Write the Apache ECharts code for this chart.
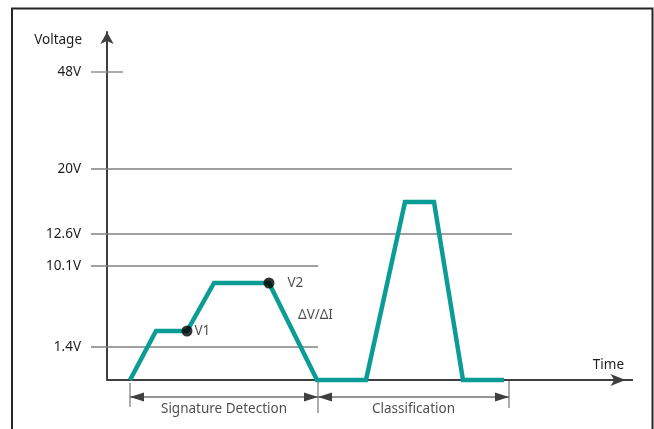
<!DOCTYPE html>
<html><head><meta charset="utf-8">
<script src="https://cdn.jsdelivr.net/npm/echarts@6/dist/echarts.min.js"></script>
<style>html,body{margin:0;padding:0;background:#fff}#c{width:654px;height:429px}</style>
</head><body><div id="c"></div>
<script>
// Schematic diagram: x = time (schematic units), y = voltage level position (schematic, non-linear scale)
const levelLabels = ['1.4V', '10.1V', '12.6V', '20V', '48V'];
const levelPos    = [33, 114, 146, 211, 308];
const levelStart  = [-16, -16, -16, -16, -16];
const levelEnd    = [211, 211, 405, 405, 16];

const traceTime  = [23, 49, 80, 107, 162, 210, 259, 298, 327, 356, 397];
const traceLevel = [0, 49, 49, 97, 97, 0, 0, 178, 178, 0, 0];

const markerNames = ['V1', 'V2'];
const markerTime  = [80, 162];
const markerLevel = [49, 97];
const markerGap   = [2, 13];

const slopeLabel = 'ΔV/ΔI';
const slopeTime = 191, slopeLevel = 65;

const phaseNames = ['Signature Detection', 'Classification'];
const phaseStart = [23, 211];
const phaseEnd   = [211, 402];
const phaseLevel = -17;
const phaseTickTime = [23, 211, 402];
const phaseTickTop = [-3, 0, 0];
const phaseTickBottom = [-27, -33, -28];

const timeMin = -17, timeMax = 526, timeAxisEnd = 526;
const levelMax = 348;

const FONT = 'Noto Sans';
const FS = 13.5;
const TXT = '#1e1e1e';
const TEAL = '#0a9c95';
const AXIS = '#3f3f3f';
const GRAY = '#808080';

const series = [];
levelPos.forEach((p, i) => {
  series.push({
    type: 'line', clip: false, silent: true, symbol: 'none', z: 1,
    data: [[levelStart[i], p], [levelEnd[i], p]],
    lineStyle: { color: GRAY, width: 1.3 }
  });
});
phaseTickTime.forEach((t, i) => {
  series.push({
    type: 'line', clip: false, silent: true, symbol: 'none', z: 1,
    data: [[t, phaseTickTop[i]], [t, phaseTickBottom[i]]],
    lineStyle: { color: GRAY, width: 1.3 }
  });
});
phaseNames.forEach((n, i) => {
  series.push({
    type: 'line', clip: false, silent: true, z: 2,
    symbolSize: [9, 14],
    data: [
      { value: [phaseStart[i], phaseLevel], symbol: 'triangle', symbolRotate: 90, symbolOffset: [7, 0] },
      { value: [phaseEnd[i], phaseLevel], symbol: 'triangle', symbolRotate: -90, symbolOffset: [-7, 0] }
    ],
    itemStyle: { color: AXIS },
    lineStyle: { color: '#707070', width: 1.5 }
  });
});
series.push({
  type: 'scatter', clip: false, silent: true, symbolSize: 0,
  data: phaseNames.map((n, i) => ({ value: [(phaseStart[i] + phaseEnd[i]) / 2, phaseLevel], name: n })),
  label: { show: true, position: 'bottom', distance: 5, formatter: p => p.name,
           color: TXT, fontSize: FS, fontFamily: FONT }
});
// time axis line (drawn from the time origin to the arrow tip)
series.push({
  type: 'line', clip: false, silent: true, z: 2, symbolSize: [9, 15],
  data: [
    { value: [0, 0], symbol: 'none' },
    { value: [timeAxisEnd, 0], symbol: 'arrow', symbolRotate: -90, symbolOffset: [-7.5, 0] }
  ],
  itemStyle: { color: AXIS },
  lineStyle: { color: AXIS, width: 2 }
});
series.push({
  type: 'line', clip: false, silent: true, symbol: 'none', z: 3,
  data: traceTime.map((t, i) => [t, traceLevel[i]]),
  lineStyle: { color: TEAL, width: 4.5, cap: 'butt', join: 'miter' }
});
series.push({
  type: 'scatter', clip: false, silent: true, symbolSize: 11, z: 4,
  itemStyle: { color: '#000' },
  data: markerNames.map((n, i) => ({ value: [markerTime[i], markerLevel[i]], name: n,
    label: { distance: markerGap[i] } })),
  label: { show: true, position: 'right', formatter: p => p.name,
           color: TXT, fontSize: FS, fontFamily: FONT }
});
series.push({
  type: 'scatter', clip: false, silent: true, symbolSize: 0,
  data: [{ value: [slopeTime, slopeLevel], name: slopeLabel }],
  label: { show: true, position: 'right', distance: 0, formatter: p => p.name,
           color: TXT, fontSize: FS, fontFamily: FONT }
});

const chart = echarts.init(document.getElementById('c'), null, { renderer: 'canvas' });
chart.setOption({
  animation: false,
  backgroundColor: '#fff',
  grid: { left: 90, right: 21, top: 32, bottom: 49, outerBoundsMode: 'none' },
  graphic: [{ type: 'rect', silent: true, z: -10,
    shape: { x: 12, y: 8.5, width: 640.5, height: 440 },
    style: { fill: 'none', stroke: '#262626', lineWidth: 2 } }],
  xAxis: {
    type: 'value', min: timeMin, max: timeMax,
    name: 'Time', nameLocation: 'end', nameGap: -9,
    nameTextStyle: { align: 'right', verticalAlign: 'bottom', padding: [0, 0, 8, 0],
                     color: TXT, fontSize: FS, fontFamily: FONT },
    axisLine: { show: false },
    axisTick: { show: false }, axisLabel: { show: false }, splitLine: { show: false }
  },
  yAxis: {
    type: 'value', min: 0, max: levelMax,
    name: 'Voltage', nameLocation: 'end', nameGap: -8,
    nameTextStyle: { align: 'right', verticalAlign: 'middle', padding: [0, 25, 0, 0],
                     color: TXT, fontSize: FS, fontFamily: FONT },
    axisLine: { show: true, onZero: true, symbol: ['none', 'arrow'], symbolSize: [10, 12],
                lineStyle: { color: AXIS, width: 2 } },
    axisTick: { show: false }, splitLine: { show: false },
    axisLabel: { show: true, customValues: levelPos, margin: 9,
                 formatter: v => levelLabels[levelPos.indexOf(v)],
                 color: TXT, fontSize: FS, fontFamily: FONT }
  },
  series: series
});
</script></body></html>
